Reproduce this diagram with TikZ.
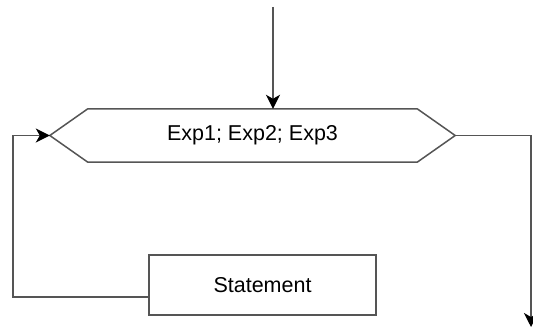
\documentclass[tikz,border=0pt]{standalone}
\usepackage{fontspec}
\setmainfont{Liberation Sans}
\usetikzlibrary{arrows.meta,calc}
\definecolor{edge}{RGB}{85,85,85}
\tikzset{
  x=1pt, y=1pt,
  flowline/.style={draw=edge, line width=1.5pt},
  tip/.style={-{Stealth[length=14pt,width=14pt,inset=4pt,color=black]}},
  lbl/.style={font=\fontsize{21.5}{26}\selectfont, inner sep=0pt},
  hexcore/.style={lbl, minimum width=329pt, minimum height=53pt},
  stmtbox/.style={lbl, draw=edge, line width=1.8pt, fill=white, minimum width=227pt, minimum height=60pt}
}
\begin{document}
\begin{tikzpicture}
\useasboundingbox (0,0) rectangle (533,329);
\clip (0,0) rectangle (533,329);

% loop header (hexagon)
\node[hexcore] (h) at (252.5,193.5) {Exp1; Exp2; Exp3};
\coordinate (hl) at ($(h.west)+(-38,0)$);
\coordinate (hr) at ($(h.east)+(38,0)$);
\draw[flowline] (h.north west) -- (h.north east) -- (hr) -- (h.south east)
  -- (h.south west) -- (hl) -- cycle;

% loop body
\node[stmtbox] (s) at (262.5,44) {Statement};

% entry, exit and back edge
\coordinate (in) at (273,322);
\coordinate (out) at (531,2);
\coordinate (back) at (13,32);
\draw[flowline, tip] (in) -- (in |- h.north);
\draw[flowline, tip] (hr) -| (out);
\draw[flowline, tip] ($(s.west)+(0,-12)$) -- (back) |- (hl);
\end{tikzpicture}
\end{document}
